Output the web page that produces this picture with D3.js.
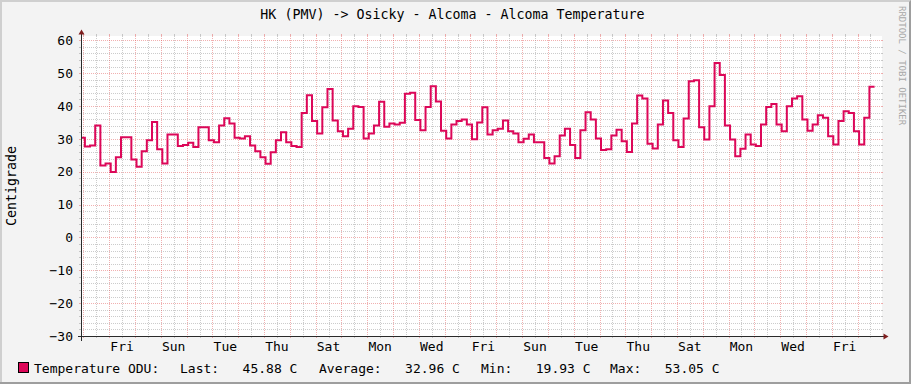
<!DOCTYPE html>
<html><head><meta charset="utf-8">
<script src="https://cdn.jsdelivr.net/npm/d3@7/dist/d3.min.js"></script>
<style>html,body{margin:0;padding:0;background:#f3f3f3;} svg{display:block}</style>
</head><body>
<svg id="chart" width="911" height="384"></svg>
<script>
// ---------------- data ----------------
const chartTitle = "HK (PMV) -> Osicky - Alcoma - Alcoma Temperature";
const yAxisTitle = "Centigrade";
const watermark = "RRDTOOL / TOBI OETIKER";
const seriesName = "Temperature ODU:";
const unit = "C";
const temperature = [
30.3, 27.7, 28.0, 34.1, 21.9, 22.5, 19.93, 24.4, 30.5, 30.5,
23.7, 21.5, 26.2, 29.6, 35.1, 26.8, 22.5, 31.3, 31.3, 27.8,
28.1, 28.8, 27.5, 33.5, 33.5, 29.6, 29.0, 34.1, 36.3, 34.7,
30.3, 30.1, 30.8, 28.0, 26.2, 24.4, 22.4, 25.9, 29.6, 32.0,
29.0, 27.8, 27.5, 37.9, 43.3, 35.4, 31.6, 39.6, 45.2, 35.6,
32.3, 30.8, 33.1, 39.9, 39.7, 30.1, 31.6, 34.1, 41.3, 33.7,
34.7, 34.4, 34.9, 43.7, 44.0, 35.7, 32.6, 39.7, 46.0, 41.4,
32.5, 30.1, 34.4, 35.4, 35.9, 34.4, 29.9, 35.0, 39.6, 31.3,
32.6, 33.1, 35.6, 32.3, 31.6, 29.0, 30.0, 31.3, 29.0, 29.0,
24.2, 22.5, 24.7, 31.0, 33.1, 28.1, 24.2, 32.6, 38.1, 35.9,
30.1, 26.6, 26.8, 31.0, 32.8, 29.3, 26.0, 34.7, 43.2, 42.3,
28.5, 27.1, 34.4, 41.7, 37.9, 29.6, 27.5, 36.2, 47.5, 47.8,
33.5, 29.8, 39.9, 53.05, 49.4, 34.1, 29.8, 24.7, 27.0, 31.3,
28.3, 27.8, 34.4, 39.7, 40.6, 34.4, 32.3, 39.9, 42.3, 43.0,
35.9, 32.5, 34.4, 37.2, 36.4, 30.8, 28.3, 35.4, 38.4, 37.9,
32.3, 28.3, 36.4, 45.88
];
const seriesStart = Date.UTC(2024, 0, 3, 20, 36);
const seriesStepHours = 4.8;
const viewStart = Date.UTC(2024, 0, 3, 22, 20);
const viewEnd = Date.UTC(2024, 1, 3, 22, 20);
const yDomain = [-30, 61.3];
const yTicks = [-30, -20, -10, 0, 10, 20, 30, 40, 50, 60];
const dayLabels = ["Fri","Sun","Tue","Thu","Sat","Mon","Wed","Fri","Sun","Tue","Thu","Sat","Mon","Wed","Fri"];
const firstLabelTime = Date.UTC(2024, 0, 5, 12, 0);
const statNames = ["Last:", "Average:", "Min:", "Max:"];
const statValues = [45.88, 32.96, 19.93, 53.05];

// ---------------- style ----------------
const C = {
  back: "#f3f3f3", canvas: "#ffffff", shadeA: "#cfcfcf", shadeB: "#9e9e9e",
  grid: "rgba(143,143,143,0.45)", mgrid: "rgba(224,80,80,0.45)",
  axis: "#2a2a2a", arrow: "#7f1f1f", font: "#000", line: "#dc0758"
};
const FONT = "'DejaVu Sans Mono', monospace";
const W = 911, H = 384;
const X0 = 81, X1 = 881, Y0 = 336, Y1 = 36;

const svg = d3.select("#chart");
svg.append("rect").attr("width", W).attr("height", H).attr("fill", C.back);
svg.append("path").attr("fill", C.shadeA).attr("d", `M0,0H${W}V2H2V${H}H0Z`);
svg.append("path").attr("fill", C.shadeB).attr("d", `M${W},0V${H}H0V${H-2}H${W-2}V2Z`);

const x = d3.scaleUtc().domain([new Date(viewStart), new Date(viewEnd)]).range([X0 + 0.6, X1 + 0.6]);
const y = d3.scaleLinear().domain(yDomain).range([Y0, Y1]);
const px = v => Math.round(v) + 0.5;

svg.append("rect").attr("x", X0).attr("y", Y1).attr("width", X1 - X0 + 1).attr("height", Y0 - Y1 + 1).attr("fill", C.canvas);

const g = svg.append("g").attr("shape-rendering", "crispEdges");

// horizontal grid
const minorY = d3.range(-30, yDomain[1], 2).filter(v => v % 10 !== 0);
minorY.forEach(v => {
  const yy = px(y(v));
  g.append("line").attr("x1", X0).attr("x2", X1).attr("y1", yy).attr("y2", yy)
    .attr("stroke", C.grid).attr("stroke-dasharray", "1,1");
  g.append("line").attr("x1", X0 - 2).attr("x2", X0).attr("y1", yy).attr("y2", yy).attr("stroke", C.grid);
  g.append("line").attr("x1", X1).attr("x2", X1 + 2).attr("y1", yy).attr("y2", yy).attr("stroke", C.grid);
});
yTicks.forEach(v => {
  const yy = px(y(v));
  g.append("line").attr("x1", X0).attr("x2", X1).attr("y1", yy).attr("y2", yy)
    .attr("stroke", C.mgrid).attr("stroke-dasharray", "1,1");
  g.append("line").attr("x1", X0 - 2).attr("x2", X0).attr("y1", yy).attr("y2", yy).attr("stroke", C.mgrid);
  g.append("line").attr("x1", X1).attr("x2", X1 + 2).attr("y1", yy).attr("y2", yy).attr("stroke", C.mgrid);
});
// vertical grid (12h minor, 24h major)
d3.utcHour.every(12).range(new Date(viewStart), new Date(viewEnd)).forEach(t => {
  const major = t.getUTCHours() === 0;
  const xx = px(x(t));
  const col = major ? C.mgrid : C.grid;
  g.append("line").attr("x1", xx).attr("x2", xx).attr("y1", Y1).attr("y2", Y0)
    .attr("stroke", col).attr("stroke-dasharray", "1,1");
  g.append("line").attr("x1", xx).attr("x2", xx).attr("y1", Y0).attr("y2", Y0 + 2).attr("stroke", col);
  g.append("line").attr("x1", xx).attr("x2", xx).attr("y1", Y1 - 2).attr("y2", Y1).attr("stroke", col);
});

// data line
const stepMs = seriesStepHours * 3600e3;
const pts = temperature.map((v, i) => ({ t: new Date(seriesStart + i * stepMs), v }));
pts.push({ t: new Date(seriesStart + temperature.length * stepMs), v: temperature[temperature.length - 1] });
svg.append("clipPath").attr("id", "clip").append("rect")
  .attr("x", X0 + 1).attr("y", Y1 - 5).attr("width", X1 - X0).attr("height", Y0 - Y1 + 10);
svg.append("path").datum(pts).attr("clip-path", "url(#clip)")
  .attr("fill", "none").attr("stroke", C.line).attr("stroke-width", 2).attr("stroke-linejoin", "miter")
  .attr("d", d3.line().x(d => x(d.t)).y(d => y(d.v)).curve(d3.curveStepAfter));

// axes
const ay = px(y(yDomain[0])), ax = px(X0);
g.append("line").attr("x1", ax - 4).attr("x2", X1 + 4).attr("y1", ay).attr("y2", ay).attr("stroke", C.axis);
g.append("line").attr("x1", ax).attr("x2", ax).attr("y1", ay + 4).attr("y2", Y1 - 4).attr("stroke", C.axis);
svg.append("path").attr("fill", C.arrow)
  .attr("d", `M${X1 + 2.5},${ay - 3}L${X1 + 2.5},${ay + 3}L${X1 + 7.5},${ay}Z`);
svg.append("path").attr("fill", C.arrow)
  .attr("d", `M${ax - 3},${Y1 - 1.5}L${ax + 3},${Y1 - 1.5}L${ax},${Y1 - 6.5}Z`);

// y tick labels
svg.append("g").selectAll("text").data(yTicks).join("text")
  .attr("x", 73).attr("y", d => y(d)).attr("dy", "0.36em")
  .attr("text-anchor", "end").attr("font-family", FONT).attr("font-size", 13).attr("fill", C.font)
  .text(d => d3.format("d")(d));

// x tick labels
svg.append("g").selectAll("text").data(dayLabels).join("text")
  .attr("x", (d, i) => x(new Date(firstLabelTime + i * 2 * 86400e3))).attr("y", 351)
  .attr("text-anchor", "middle").attr("font-family", FONT).attr("font-size", 13).attr("fill", C.font)
  .text(d => d);

// title
svg.append("text").attr("x", W / 2 - 3).attr("y", 19).attr("text-anchor", "middle")
  .attr("font-family", FONT).attr("font-size", 13.3).attr("fill", C.font).text(chartTitle);

// y axis title
svg.append("text").attr("transform", `translate(16,186) rotate(-90)`).attr("text-anchor", "middle")
  .attr("font-family", FONT).attr("font-size", 13.3).attr("fill", C.font).text(yAxisTitle);

// watermark
svg.append("text").attr("transform", `translate(899,6) rotate(90)`)
  .attr("font-family", FONT).attr("font-size", 9).attr("fill", "#a8a8a8").text(watermark);

// legend
const legY = 372.5;
svg.append("rect").attr("x", 18.5).attr("y", 362.5).attr("width", 10).attr("height", 10)
  .attr("fill", C.line).attr("stroke", "#000");
const legendItems = [
  { x: 34, s: seriesName },
  ...statNames.map((n, i) => ({ x: [180, 319, 481, 610][i], s: n + "   " + statValues[i].toFixed(2) + " " + unit }))
];
svg.append("g").selectAll("text").data(legendItems).join("text")
  .attr("x", d => d.x).attr("y", legY).attr("xml:space", "preserve").style("white-space", "pre")
  .attr("font-family", FONT).attr("font-size", 13).attr("fill", C.font).text(d => d.s);
</script>
</body></html>
